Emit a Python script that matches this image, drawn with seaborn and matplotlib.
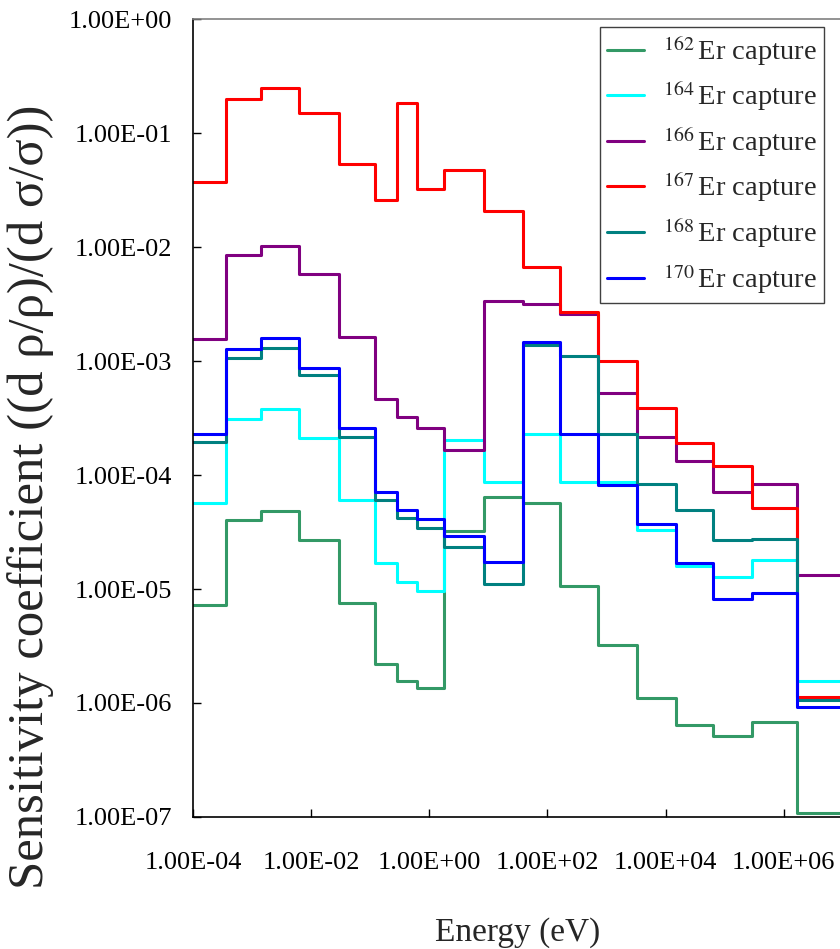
import numpy as np
import pandas as pd
import matplotlib
matplotlib.use("Agg")
import matplotlib.pyplot as plt
from matplotlib.ticker import FixedLocator, FuncFormatter, NullLocator
import seaborn as sns

# Energy group boundaries (eV)
group_edges = [1.0e-4, 3.6e-4, 1.43e-3, 6.2e-3, 3.0e-2, 1.2e-1, 2.8e-1, 6.2e-1,
               1.8e0, 8.3e0, 3.8e1, 1.64e2, 7.3e2, 3.3e3, 1.5e4, 6.4e4, 2.9e5,
               1.7e6, 2.0e7]

# Sensitivity coefficients per energy group
er162 = [7.2e-6, 4.0e-5, 4.8e-5, 2.7e-5, 7.6e-6, 2.2e-6, 1.56e-6, 1.35e-6,
         3.25e-5, 6.45e-5, 5.7e-5, 1.07e-5, 3.2e-6, 1.11e-6, 6.4e-7, 5.1e-7,
         6.8e-7, 1.09e-7]
er164 = [5.7e-5, 3.1e-4, 3.8e-4, 2.1e-4, 6.0e-5, 1.68e-5, 1.16e-5, 9.6e-6,
         2.03e-4, 8.7e-5, 2.3e-4, 8.7e-5, 8.6e-5, 3.3e-5, 1.59e-5, 1.27e-5,
         1.8e-5, 1.55e-6]
er166 = [1.56e-3, 8.5e-3, 1.03e-2, 5.8e-3, 1.64e-3, 4.6e-4, 3.2e-4, 2.58e-4,
         1.66e-4, 3.36e-3, 3.18e-3, 2.57e-3, 5.2e-4, 2.17e-4, 1.33e-4, 7.1e-5,
         8.4e-5, 1.34e-5]
er167 = [3.7e-2, 2.0e-1, 2.47e-1, 1.51e-1, 5.3e-2, 2.6e-2, 1.84e-1, 3.2e-2,
         4.7e-2, 2.06e-2, 6.7e-3, 2.67e-3, 1.01e-3, 3.9e-4, 1.9e-4, 1.21e-4,
         5.1e-5, 1.14e-6]
er168 = [1.96e-4, 1.07e-3, 1.31e-3, 7.5e-4, 2.17e-4, 6.0e-5, 4.2e-5, 3.43e-5,
         2.33e-5, 1.1e-5, 1.38e-3, 1.11e-3, 2.3e-4, 8.4e-5, 4.97e-5, 2.7e-5,
         2.75e-5, 1.07e-6]
er170 = [2.3e-4, 1.27e-3, 1.6e-3, 8.7e-4, 2.57e-4, 7.1e-5, 4.97e-5, 4.08e-5,
         2.94e-5, 1.74e-5, 1.46e-3, 2.3e-4, 8.2e-5, 3.7e-5, 1.7e-5, 8.2e-6,
         9.3e-6, 9.2e-7]

labels = [r"$^{162}\,$Er capture", r"$^{164}\,$Er capture", r"$^{166}\,$Er capture",
          r"$^{167}\,$Er capture", r"$^{168}\,$Er capture", r"$^{170}\,$Er capture"]
colors = ["#339966", "#00FFFF", "#800080", "#FF0000", "#008080", "#0000FF"]
series = [er162, er164, er166, er167, er168, er170]

x_ticks = [1e-4, 1e-2, 1e0, 1e2, 1e4, 1e6]
y_ticks = [1e-7, 1e-6, 1e-5, 1e-4, 1e-3, 1e-2, 1e-1, 1e0]

# Long-form table: each series is a step function over the group edges
rows = []
for lab, vals in zip(labels, series):
    ys = list(vals) + [vals[-1]]
    for e, v in zip(group_edges, ys):
        rows.append({"Energy": e, "S": v, "Isotope": lab})
df = pd.DataFrame(rows)

sns.set_style("ticks")
plt.rcParams["font.family"] = ["Liberation Serif", "DejaVu Serif"]
plt.rcParams["mathtext.fontset"] = "stix"

fig = plt.figure(figsize=(8.4, 9.49), dpi=100)
ax = fig.add_axes([193 / 840, 1 - 817 / 949, 1 - 193 / 840, (817 - 19) / 949])

sns.lineplot(data=df, x="Energy", y="S", hue="Isotope", hue_order=labels,
             palette=dict(zip(labels, colors)), drawstyle="steps-post",
             estimator=None, sort=False, linewidth=2.2, ax=ax)

ax.set_xscale("log")
ax.set_yscale("log")
ax.set_xlim(1e-4, 10 ** 6.953)
ax.set_ylim(1e-7, 1e0)

fmt = FuncFormatter(lambda v, p: f"{v:.2E}")
ax.xaxis.set_major_locator(FixedLocator(x_ticks))
ax.yaxis.set_major_locator(FixedLocator(y_ticks))
ax.xaxis.set_major_formatter(fmt)
ax.yaxis.set_major_formatter(fmt)
ax.xaxis.set_minor_locator(NullLocator())
ax.yaxis.set_minor_locator(NullLocator())
ax.tick_params(axis="both", direction="in", length=5.8, width=1.0,
               color="black", labelsize=19, labelcolor="black")
ax.tick_params(axis="y", pad=15)
ax.tick_params(axis="x", pad=25)

for side in ("left", "bottom"):
    ax.spines[side].set_color("black")
    ax.spines[side].set_linewidth(1.2)
ax.spines["top"].set_color("#808080")
ax.spines["top"].set_linewidth(1.2)
ax.spines["right"].set_visible(False)

ax.set_xlabel("Energy (eV)", fontsize=24)
ax.xaxis.set_label_coords((518 - 193) / 647, -(941 - 817) / 798)
ax.xaxis.label.set_va("baseline")
ax.set_ylabel("Sensitivity coefficient ((d ρ/ρ)/(d σ/σ))", fontsize=36.5)
ax.yaxis.set_label_coords((54 - 193) / 647, (817 - 497) / 798)

leg = ax.legend(loc="upper left", bbox_to_anchor=(600 / 840, 1 - 27 / 949),
                bbox_transform=fig.transFigure, borderaxespad=0,
                fontsize=20.5, frameon=True, fancybox=False, framealpha=1,
                edgecolor="#404040", handlelength=1.3, handletextpad=0.65,
                labelspacing=0.42, borderpad=0.25)
leg.get_frame().set_linewidth(1.0)
for line in leg.get_lines():
    line.set_linewidth(2.2)

fig.savefig("out.png", dpi=100)
